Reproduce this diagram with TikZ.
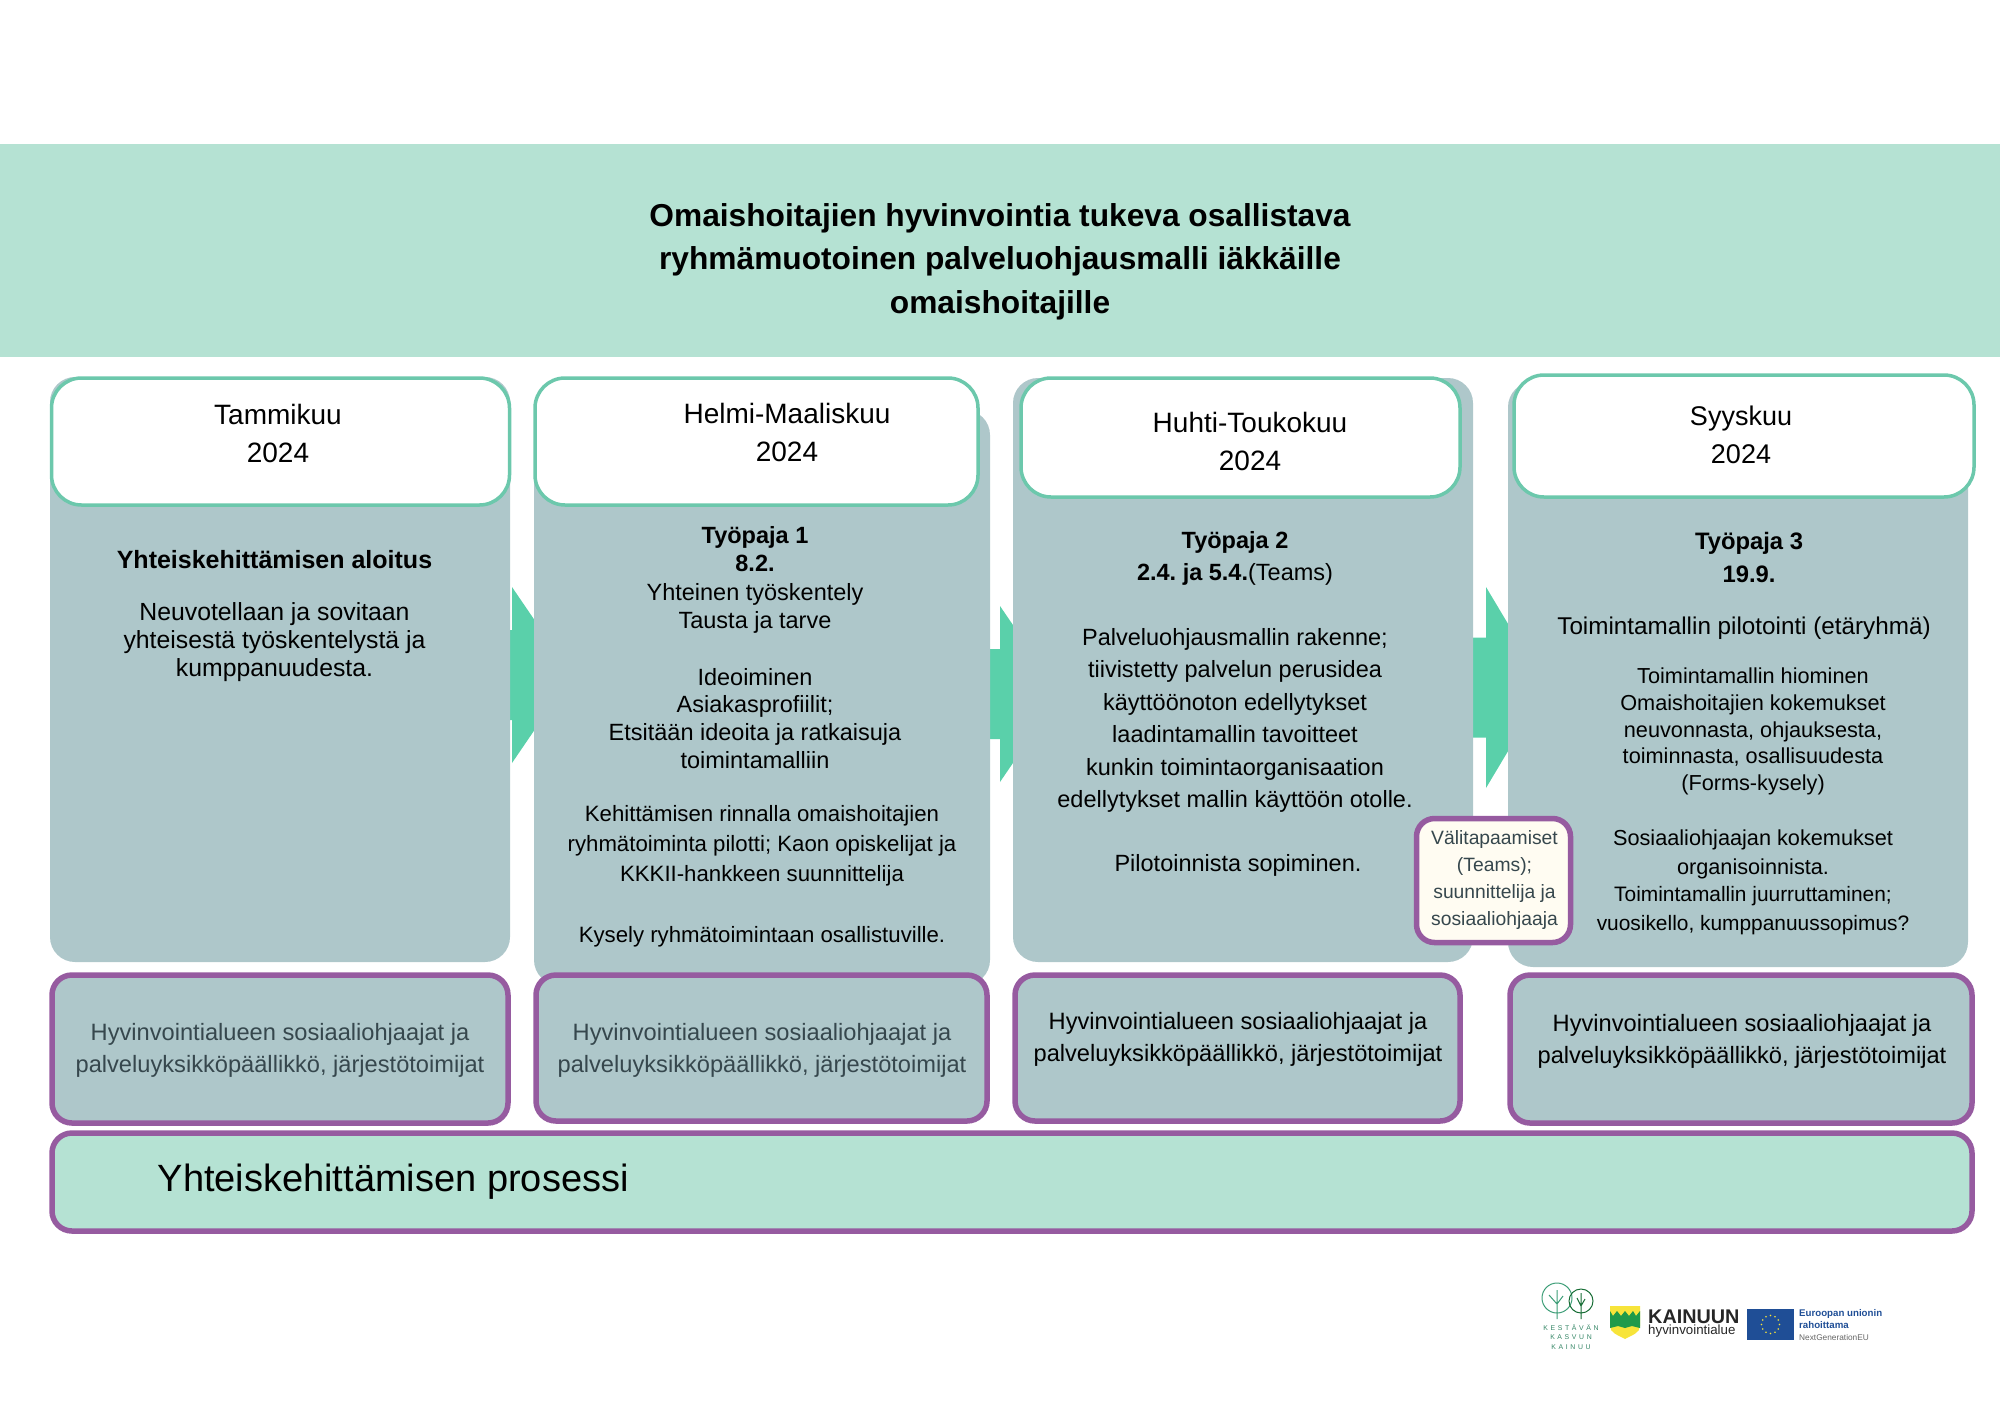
\documentclass[tikz,border=0pt]{standalone}
\usepackage{fontspec}
\setmainfont{Liberation Sans}
\usepackage{xcolor}
\definecolor{band}{HTML}{B5E2D3}
\definecolor{slate}{HTML}{AEC7CA}
\definecolor{mint}{HTML}{5AD0AA}
\definecolor{hline}{HTML}{6CC8AC}
\definecolor{purp}{HTML}{965BA0}
\definecolor{cream}{HTML}{FFFCF2}
\definecolor{dtxt}{HTML}{36474D}
\definecolor{euro}{HTML}{1F4E96}
\definecolor{tree}{HTML}{3E9E78}
\definecolor{leaf}{HTML}{1F9A4A}
\definecolor{gold}{HTML}{F7E43A}
\newcommand{\fs}[2]{\fontsize{#1}{#2}\selectfont}
\usetikzlibrary{positioning}
\frenchspacing
\tikzset{
  colbox/.style={fill=slate,rounded corners=25pt,inner sep=0pt},
  hdrbox/.style={draw=hline,fill=white,line width=3.5pt,rounded corners=30pt,inner sep=0pt},
  whobox/.style={draw=purp,fill=slate,line width=5.5pt,rounded corners=20pt,inner sep=0pt},
  lab/.style={inner sep=0pt,align=center,font=\fs{24.8}{28}},
  mon/.style={inner sep=0pt,align=center,font=\fs{28}{38}},
  who/.style={inner sep=0pt,align=center,font=\fs{23.65}{32}},
  sm/.style={inner sep=0pt,align=center,font=\fs{21.7}{26.8}},
  logotxt/.style={inner sep=0pt,anchor=west},
}
\begin{document}
\begin{tikzpicture}[x=1pt,y=-1pt]
\useasboundingbox (0,0) rectangle (2000,1414);
\node[fill=band,minimum width=2000pt,minimum height=213pt,inner sep=0pt] (head) at (1000,250.5) {};
\node[inner sep=0pt,align=center,font=\fs{31.7}{43.5}\bfseries] (title) at (1000,261.5) {Omaishoitajien hyvinvointia tukeva osallistava\\ryhmämuotoinen palveluohjausmalli iäkkäille\\omaishoitajille};
\foreach \n/\xa/\xb/\ya/\yb/\s in {1/512/534/587/763/45,2/1000/1013/606/782/45,3/1486/1508/587/788/50}{
  \fill[mint] (\xa-40,{(\ya+\yb)/2-\s}) -- (\xa,{(\ya+\yb)/2-\s}) -- (\xa,\ya) -- (\xa+60,{(\ya+\yb)/2}) -- (\xa,\yb) -- (\xa,{(\ya+\yb)/2+\s}) -- (\xa-40,{(\ya+\yb)/2+\s}) -- cycle;}
\node[colbox,minimum width=460pt,minimum height=585pt] (col1) at (280,669.5) {};
\node[colbox,minimum width=456pt,minimum height=575pt] (col2) at (762,697.5) {};
\node[colbox,minimum width=460pt,minimum height=584pt] (col3) at (1243,670) {};
\node[colbox,minimum width=460pt,minimum height=585pt] (col4) at (1738,674.5) {};
\node[hdrbox,minimum width=458pt,minimum height=127pt] (hdr1) at (280.5,441.5) {};
\node[hdrbox,minimum width=443pt,minimum height=127pt] (hdr2) at (756.5,441.5) {};
\node[hdrbox,minimum width=439pt,minimum height=119pt] (hdr3) at (1240.5,437.5) {};
\node[hdrbox,minimum width=460pt,minimum height=122pt] (hdr4) at (1744,436) {};
\node[mon] (mon1) at (278,433.5) {Tammikuu\\2024};
\node[mon] (mon2) at (787,432.5) {Helmi-Maaliskuu\\2024};
\node[mon] (mon3) at (1250,441) {Huhti-Toukokuu\\2024};
\node[mon,font=\fs{27}{38}] (mon4) at (1741,435) {Syyskuu\\2024};
\node[lab,font=\fs{25}{28}] (aloitus) at (274.5,560) {\textbf{Yhteiskehittämisen aloitus}};
\node[lab] (neuvo) at (274.5,642.5) {Neuvotellaan ja sovitaan\\yhteisestä työskentelystä ja\\kumppanuudesta.};
\node[lab,font=\fs{23.5}{28.3}] (paja1) at (755,580) {\textbf{Työpaja 1}\\\textbf{8.2.}\\Yhteinen työskentely\\Tausta ja tarve};
\node[lab,font=\fs{23.5}{27.9}] (ideo) at (755,718.5) {Ideoiminen\\Asiakasprofiilit;\\Etsitään ideoita ja ratkaisuja\\toimintamalliin};
\node[lab,font=\fs{22.2}{30}] (kehit) at (762,845.5) {Kehittämisen rinnalla omaishoitajien\\ryhmätoiminta pilotti; Kaon opiskelijat ja\\KKKII-hankkeen suunnittelija};
\node[lab,font=\fs{22.2}{28}] (kysely) at (762,936.5) {Kysely ryhmätoimintaan osallistuville.};
\node[lab,font=\fs{23.5}{32}] (paja2) at (1235,558.5) {\textbf{Työpaja 2}\\\textbf{2.4. ja 5.4.}(Teams)};
\node[lab,font=\fs{23.5}{32.4}] (raken) at (1235,720.5) {Palveluohjausmallin rakenne;\\tiivistetty palvelun perusidea\\käyttöönoton edellytykset\\laadintamallin tavoitteet\\kunkin toimintaorganisaation\\edellytykset mallin käyttöön otolle.};
\node[lab,font=\fs{23.5}{28}] (sopi) at (1238,865.5) {Pilotoinnista sopiminen.};
\node[lab,font=\fs{23.8}{33}] (paja3) at (1749,557) {\textbf{Työpaja 3}\\\textbf{19.9.}};
\node[lab,font=\fs{24.25}{28}] (pilot) at (1744,628.5) {Toimintamallin pilotointi (etäryhmä)};
\node[sm] (hiom) at (1753,731.5) {Toimintamallin hiominen\\Omaishoitajien kokemukset\\neuvonnasta, ohjauksesta,\\toiminnasta, osallisuudesta\\(Forms-kysely)};
\node[sm,font=\fs{21.7}{29}] (sosi) at (1753,854) {Sosiaaliohjaajan kokemukset\\organisoinnista.};
\node[sm,font=\fs{20.9}{29}] (juur) at (1753,911) {Toimintamallin juurruttaminen;\\vuosikello, kumppanuussopimus?};
\node[draw=purp,fill=cream,line width=5.5pt,rounded corners=18pt,minimum width=154pt,minimum height=124pt,inner sep=0pt] (vali) at (1493.5,880.5) {};
\node[inner sep=0pt,align=center,text=dtxt,font=\fs{19.3}{27}] (valit) at (1494.5,879.5) {Välitapaamiset\\(Teams);\\suunnittelija ja\\sosiaaliohjaaja};
\node[whobox,minimum width=456pt,minimum height=148pt] (who1) at (280,1049) {};
\node[whobox,minimum width=451pt,minimum height=146pt] (who2) at (761.5,1048) {};
\node[whobox,minimum width=445pt,minimum height=146pt] (who3) at (1237.5,1048) {};
\node[whobox,minimum width=462pt,minimum height=148pt] (who4) at (1741,1049) {};
\node[who,text=dtxt] (wtx1) at (280,1050) {Hyvinvointialueen sosiaaliohjaajat ja\\palveluyksikköpäällikkö, järjestötoimijat};
\node[who,text=dtxt] (wtx2) at (762,1050) {Hyvinvointialueen sosiaaliohjaajat ja\\palveluyksikköpäällikkö, järjestötoimijat};
\node[who] (wtx3) at (1238,1039) {Hyvinvointialueen sosiaaliohjaajat ja\\palveluyksikköpäällikkö, järjestötoimijat};
\node[who] (wtx4) at (1742,1041.5) {Hyvinvointialueen sosiaaliohjaajat ja\\palveluyksikköpäällikkö, järjestötoimijat};
\node[draw=purp,fill=band,line width=5.5pt,rounded corners=20pt,minimum width=1920pt,minimum height=98pt,inner sep=0pt] (proc) at (1012,1182) {};
\node[inner sep=0pt,anchor=west,font=\fs{38}{44}] (proctx) at (157.5,1181.5) {Yhteiskehittämisen prosessi};
\draw[tree,line width=1pt] (1557,1298) circle (15pt) (1557,1290) -- (1557,1319) (1549,1295) -- (1557,1304) -- (1563,1296);
\draw[leaf!70!black,line width=1pt] (1581,1301) circle (12pt) (1581,1293) -- (1581,1319) (1577,1298) -- (1581,1306) -- (1585,1299);
\node[inner sep=0pt,align=center,text=tree!85!black,font=\fs{6.9}{9.6}\addfontfeature{LetterSpace=38}] (kest) at (1571,1337) {KESTÄVÄN\\KASVUN\\KAINUU};
\fill[gold] (1610,1306) -- (1640,1306) -- (1640,1326) .. controls (1640,1333) and (1632,1335) .. (1625,1339) .. controls (1618,1335) and (1610,1333) .. (1610,1326) -- cycle;
\fill[leaf] (1610,1328) -- (1610,1311) -- (1613,1316) -- (1617,1311) -- (1621,1316) -- (1625,1311) -- (1629,1316) -- (1633,1311) -- (1636,1316) -- (1640,1311) -- (1640,1328) -- (1632,1326) -- (1625,1328) -- (1618,1326) -- cycle;
\node[logotxt,font=\fs{19.8}{22}\bfseries,text=black!85] (kain) at (1648,1316.5) {KAINUUN};
\node[logotxt,font=\fs{13.3}{16},text=black!85] (hyv) at (1648,1331) {hyvinvointialue};
\fill[euro] (1747,1309) rectangle (1794,1340);
\foreach \a in {0,30,...,330}{\fill[gold] ({1770.5+9*cos(\a)},{1324.5+9*sin(\a)}) circle (0.9pt);}
\node[logotxt,font=\fs{9.7}{12.3}\bfseries,text=euro,align=left] (eu) at (1799,1319) {Euroopan unionin\\rahoittama};
\node[logotxt,font=\fs{8.3}{10},text=black!60] (nge) at (1799,1337.5) {NextGenerationEU};
\end{tikzpicture}
\end{document}
